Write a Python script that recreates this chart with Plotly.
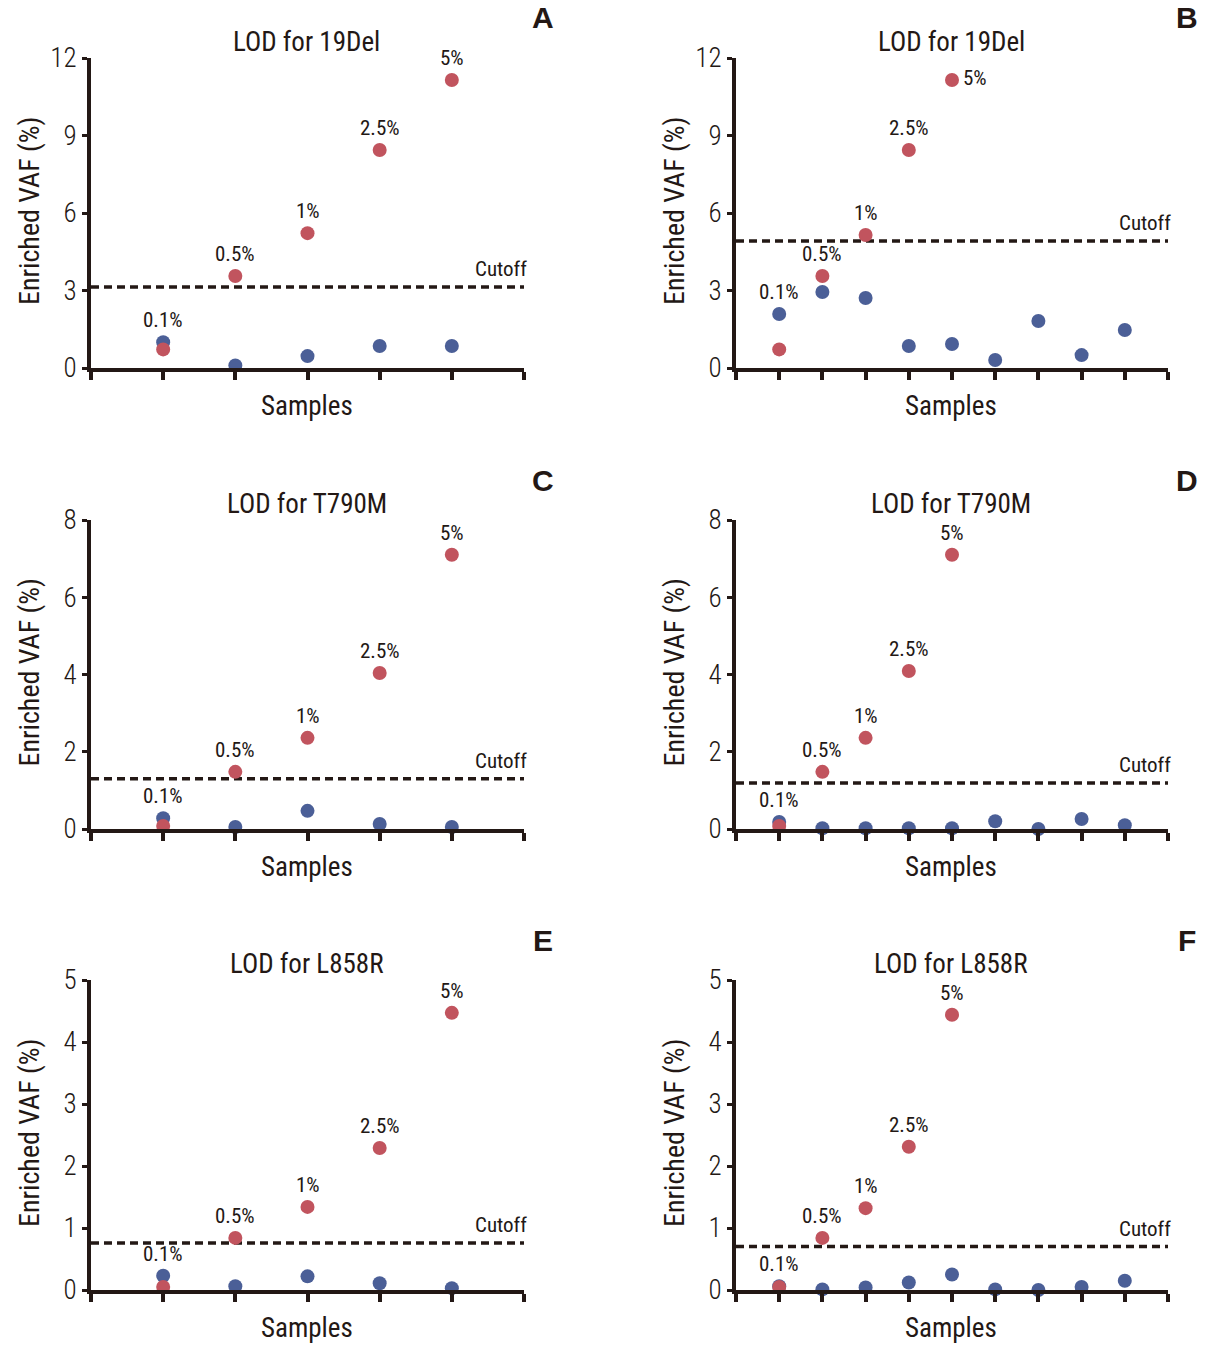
import plotly.graph_objects as go

W, H = 1211, 1346

# ---------------- data ----------------
titles = ["LOD for 19Del", "LOD for 19Del", "LOD for T790M", "LOD for T790M", "LOD for L858R", "LOD for L858R"]
letters = ["A", "B", "C", "D", "E", "F"]
pct_labels = ["0.1%", "0.5%", "1%", "2.5%", "5%"]

red_A = [0.72, 3.56, 5.22, 8.44, 11.15]
blue_A = [1.0, 0.1, 0.46, 0.85, 0.85]
cut_A = 3.14

red_B = [0.72, 3.56, 5.15, 8.44, 11.15]
blue_B = [2.09, 2.94, 2.71, 0.85, 0.93, 0.31, 1.82, 0.5, 1.47]
cut_B = 4.92

red_C = [0.08, 1.48, 2.36, 4.04, 7.1]
blue_C = [0.28, 0.05, 0.47, 0.13, 0.05]
cut_C = 1.3

red_D = [0.08, 1.48, 2.36, 4.09, 7.1]
blue_D = [0.18, 0.02, 0.02, 0.02, 0.02, 0.2, 0.0, 0.26, 0.1]
cut_D = 1.19

red_E = [0.05, 0.84, 1.34, 2.29, 4.47]
blue_E = [0.23, 0.06, 0.22, 0.11, 0.03]
cut_E = 0.76

red_F = [0.05, 0.84, 1.32, 2.31, 4.44]
blue_F = [0.06, 0.01, 0.04, 0.12, 0.25, 0.01, 0.0, 0.05, 0.15]
cut_F = 0.7

y_max = [12, 12, 8, 8, 5, 5]
y_ticks = [[0, 3, 6, 9, 12], [0, 3, 6, 9, 12], [0, 2, 4, 6, 8], [0, 2, 4, 6, 8],
           [0, 1, 2, 3, 4, 5], [0, 1, 2, 3, 4, 5]]
label_5_right = [False, True, False, False, False, False]

panels = [(red_A, blue_A, cut_A), (red_B, blue_B, cut_B), (red_C, blue_C, cut_C),
          (red_D, blue_D, cut_D), (red_E, blue_E, cut_E), (red_F, blue_F, cut_F)]

# ---------------- style ----------------
INK = "#231815"
RED = "#c1545e"
BLUE = "#4b5f97"
FONT = "Roboto Condensed, Archivo Narrow, Roboto, sans-serif"

col_x = [(91, 524), (736, 1168)]
row_y = [(58, 368), (520, 829), (980, 1290)]


def px(x):
    return x / W


def py(y):
    return 1 - y / H


fig = go.Figure()
annotations = []

for i, (red, blue, cut) in enumerate(panels):
    r, c = divmod(i, 2)
    n = len(blue)
    xmax = n + 1
    ax = "" if i == 0 else str(i + 1)
    xr = "x" + ax
    yr = "y" + ax
    x0, x1 = col_x[c]
    ytop, ybot = row_y[r]

    xs_blue = list(range(1, n + 1))
    xs_red = list(range(1, len(red) + 1))

    fig.add_trace(go.Scatter(x=[0, xmax * 1.007], y=[cut, cut], mode="lines",
                             line=dict(color=INK, width=3.5, dash="8px,5px"),
                             xaxis=xr, yaxis=yr, showlegend=False, hoverinfo="skip",
                             cliponaxis=False))
    fig.add_trace(go.Scatter(x=xs_blue, y=blue, mode="markers",
                             marker=dict(color=BLUE, size=14, line=dict(width=0)),
                             xaxis=xr, yaxis=yr, showlegend=False, cliponaxis=False))
    fig.add_trace(go.Scatter(x=xs_red, y=red, mode="markers",
                             marker=dict(color=RED, size=14, line=dict(width=0)),
                             xaxis=xr, yaxis=yr, showlegend=False, cliponaxis=False))

    fig.layout["xaxis" + ax] = dict(
        domain=[px(x0), px(x1)], range=[0, xmax], anchor=yr, automargin=False,
        showline=True, linewidth=4, linecolor=INK, mirror=False,
        ticks="outside", ticklen=8, tickwidth=3.5, tickcolor=INK,
        tickvals=list(range(0, xmax + 1)), showticklabels=False,
        showgrid=False, zeroline=False, fixedrange=True)
    fig.layout["yaxis" + ax] = dict(
        domain=[py(ybot), py(ytop)], range=[0, y_max[i]], anchor=xr, automargin=False,
        showline=True, linewidth=4, linecolor=INK,
        ticks="outside", ticklen=5, tickwidth=2.5, tickcolor=INK,
        tickvals=y_ticks[i], ticktext=[str(v) for v in y_ticks[i]],
        tickfont=dict(family=FONT, size=27, color=INK, weight=300),
        showgrid=False, zeroline=False, fixedrange=True)

    for k, lab in enumerate(pct_labels):
        yv = max(red[k], blue[k])
        if k == 4 and label_5_right[i]:
            annotations.append(dict(x=k + 1, y=red[k], xref=xr, yref=yr, text=lab,
                                    showarrow=False, xanchor="left", yanchor="middle",
                                    xshift=9, yshift=2,
                                    font=dict(family=FONT, size=21, color=INK)))
        else:
            annotations.append(dict(x=k + 1, y=yv, xref=xr, yref=yr, text=lab,
                                    showarrow=False, xanchor="center", yanchor="middle",
                                    yshift=22,
                                    font=dict(family=FONT, size=21, color=INK)))
    annotations.append(dict(x=px(x1 + 5), y=cut, xref="paper", yref=yr, text="Cutoff",
                            showarrow=False, xanchor="right", yanchor="middle", yshift=18,
                            font=dict(family=FONT, size=21, color=INK)))
    annotations.append(dict(x=px((x0 + x1) / 2 - 1), y=py(ytop - 16), xref="paper", yref="paper",
                            text=titles[i], showarrow=False, xanchor="center", yanchor="middle",
                            font=dict(family=FONT, size=27, color=INK, weight=400)))
    annotations.append(dict(x=px(x0 - 62), y=py((ytop + ybot) / 2 - 2), xref="paper", yref="paper",
                            text="Enriched VAF (%)", textangle=-90, showarrow=False,
                            xanchor="center", yanchor="middle",
                            font=dict(family=FONT, size=28, color=INK, weight=400)))
    annotations.append(dict(x=px((x0 + x1) / 2 - 1), y=py(ybot + 38), xref="paper", yref="paper",
                            text="Samples", showarrow=False, xanchor="center", yanchor="middle",
                            font=dict(family=FONT, size=27, color=INK, weight=400)))
    annotations.append(dict(x=px(x1 + 19), y=py(ytop - 40), xref="paper", yref="paper",
                            text="<b>" + letters[i] + "</b>", showarrow=False,
                            xanchor="center", yanchor="middle",
                            font=dict(family="Liberation Sans, Arial, sans-serif", size=30, color=INK)))

fig.update_layout(width=W, height=H, margin=dict(l=0, r=0, t=0, b=0, autoexpand=False),
                  paper_bgcolor="white", plot_bgcolor="white",
                  annotations=annotations, showlegend=False)

fig.write_html("out.html", config={"displayModeBar": False},
               post_script="document.body.style.margin='0';")
